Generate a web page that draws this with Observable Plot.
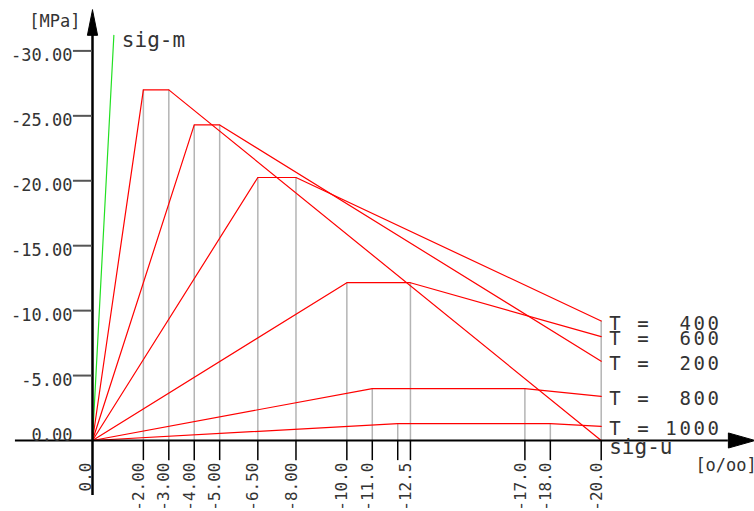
<!DOCTYPE html>
<html><head><meta charset="utf-8">
<script src="https://cdn.jsdelivr.net/npm/d3@7"></script>
<script src="https://cdn.jsdelivr.net/npm/@observablehq/plot@0.6"></script>
<style>
body{margin:0;background:#fff;}
#chart svg{display:block;}
</style>
</head><body><div id="chart"></div>
<script>
// Stress-strain curves of concrete at elevated temperature
const temps        = ["20", "200", "400", "600", "800", "1000"];
const curveLabels  = ["", "T =\u00a0 200", "T =\u00a0 400", "T =\u00a0 600", "T =\u00a0 800", "T = 1000"];
const epsPeakStart = [-2.0, -4.0, -6.5, -10.0, -11.0, -12.0];   // [o/oo]
const epsPeakEnd   = [-3.0, -5.0, -8.0, -12.5, -17.0, -18.0];   // [o/oo]
const sigPeak      = [-27.0, -24.3, -20.25, -12.15, -4.0, -1.3]; // [MPa]
const epsUlt       = -20.0;
const sigUlt       = [0, -6.1, -9.2, -8.0, -3.4, -1.08];         // [MPa]

// sig-m line
const sigMEps = [0, -0.84];
const sigMSig = [0, -31.2];

// axis ticks
const xTickValues = [0, -2, -3, -4, -5, -6.5, -8, -10, -11, -12, -12.5, -17, -18, -20];
const xTickLabels = ["0.0", "-2.00", "-3.00", "-4.00", "-5.00", "-6.50", "-8.00", "-10.0", "-11.0", "", "-12.5", "-17.0", "-18.0", "-20.0"];
const yTickValues = [0, -5, -10, -15, -20, -25, -30];
const yTickLabels = ["0.00", "-5.00", "-10.00", "-15.00", "-20.00", "-25.00", "-30.00"];

// ---- build tables for marks
const curvePts = [];
temps.forEach((t, i) => {
  curvePts.push({T: t, eps: 0, sig: 0});
  curvePts.push({T: t, eps: epsPeakStart[i], sig: sigPeak[i]});
  curvePts.push({T: t, eps: epsPeakEnd[i], sig: sigPeak[i]});
  curvePts.push({T: t, eps: epsUlt, sig: sigUlt[i]});
});
const verticals = [];
temps.forEach((t, i) => {
  verticals.push({eps: epsPeakStart[i], sig: sigPeak[i]});
  verticals.push({eps: epsPeakEnd[i], sig: sigPeak[i]});
});
verticals.push({eps: epsUlt, sig: d3.min(sigUlt)});
const labels = temps.map((t, i) => ({eps: epsUlt, sig: sigUlt[i], text: curveLabels[i]})).filter(d => d.text);
const sigM = sigMEps.map((e, i) => ({eps: e, sig: sigMSig[i]}));
const xTicks = xTickValues.map((v, i) => ({v, label: xTickLabels[i]}));
const yTicks = yTickValues.map((v, i) => ({v, label: yTickLabels[i]}));

// axis decoration extents (data units)
const yAxisBottom = 4.24, yAxisTop = -31.2, yArrowTip = -33.15, yArrowHalf = 0.2;
const xAxisLeft = 3.03, xAxisRight = -25.0, xArrowTip = -26.05, xArrowHalf = 0.58;

const txt = "#333";
const plot = Plot.plot({
  width: 754, height: 511,
  marginTop: 0, marginRight: 0, marginBottom: 0, marginLeft: 0,
  x: {domain: [0, -20], range: [92, 600.7], axis: null},
  y: {domain: [0, -30], range: [440, 50.4], axis: null},
  style: {fontFamily: "DejaVu Sans Mono", background: "white", color: txt},
  marks: [
    Plot.ruleX(verticals, {x: "eps", y1: 0, y2: "sig", stroke: "#b4b4b4", strokeWidth: 1.5}),
    Plot.line(curvePts, {x: "eps", y: "sig", z: "T", stroke: "#ff0000", strokeWidth: 1.2}),
    Plot.line(sigM, {x: "eps", y: "sig", stroke: "#22e022", strokeWidth: 1.2}),
    // y axis
    Plot.ruleX([0], {y1: yAxisBottom, y2: yAxisTop, stroke: "black", strokeWidth: 2.5}),
    Plot.line([[0, yArrowTip], [yArrowHalf, yAxisTop], [-yArrowHalf, yAxisTop], [0, yArrowTip]], {fill: "black", stroke: "black", strokeWidth: 1}),
    // x axis
    Plot.ruleY([0], {x1: xAxisLeft, x2: xAxisRight, stroke: "black", strokeWidth: 2}),
    Plot.line([[xArrowTip, 0], [xAxisRight, -xArrowHalf], [xAxisRight, xArrowHalf], [xArrowTip, 0]], {fill: "black", stroke: "black", strokeWidth: 1}),
    // y ticks
    Plot.ruleY(yTicks.filter(d => d.v !== 0), {y: "v", x1: 0.75, x2: 0, stroke: "#555", strokeWidth: 2}),
    Plot.text(yTicks.filter(d => d.v !== 0), {x: 0.79, y: "v", text: "label", textAnchor: "end", dy: 4.6, fontSize: 17, fill: txt}),
    Plot.text(yTicks.filter(d => d.v === 0), {x: 0.79, y: "v", text: "label", textAnchor: "end", dy: -5.4, fontSize: 17, fill: txt}),
    // x ticks
    Plot.ruleX(xTicks.filter(d => d.v !== 0), {x: "v", y1: 0, y2: 1.55, stroke: "black", strokeWidth: 1.5}),
    Plot.text(xTicks.filter(d => d.label && d.v !== 0), {x: "v", y: 0, text: "label", rotate: -90, textAnchor: "end", dx: -4.5, dy: 22, fontSize: 16, fill: txt}),
    Plot.text(xTicks.filter(d => d.v === 0), {x: "v", y: 0, text: "label", rotate: -90, textAnchor: "end", dx: -6.5, dy: 22, fontSize: 16, fill: txt}),
    // curve labels
    Plot.text(labels, {x: "eps", y: "sig", text: "text", textAnchor: "start", dx: 8, dy: 2.4, fontSize: 19, fill: txt}),
    // annotations
    Plot.text([sigM[1]], {x: "eps", y: "sig", text: () => "sig-m", textAnchor: "start", dx: 8, dy: 5, fontSize: 21, fill: txt}),
    Plot.text([{eps: epsUlt, sig: 0}], {x: "eps", y: "sig", text: () => "sig-u", textAnchor: "start", dx: 8, dy: 6.3, fontSize: 21, fill: txt}),
    Plot.text([{eps: 0, sig: yArrowTip}], {x: "eps", y: "sig", text: () => "[MPa]", textAnchor: "end", dx: -12, dy: 11.6, fontSize: 17, fill: txt}),
    Plot.text([{eps: xAxisRight, sig: 0}], {x: "eps", y: "sig", text: () => "[o/oo]", textAnchor: "start", dx: -33, dy: 24.6, fontSize: 17, fill: txt})
  ]
});
d3.select(plot).selectAll("text").filter(function() { return this.textContent.startsWith("T ="); })
  .style("letter-spacing", "2.6px").style("white-space", "pre");
document.getElementById("chart").appendChild(plot);
</script>
</body></html>
